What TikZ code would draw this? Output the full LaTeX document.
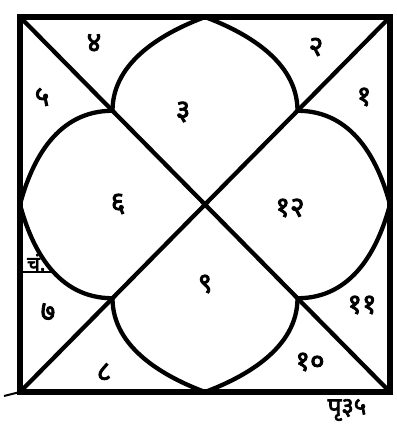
\documentclass[tikz,border=0pt]{standalone}
\usepackage{fontspec}
\newfontfamily\deva[Script=Devanagari,FakeBold=3]{Noto Sans}
\usetikzlibrary{calc}
\begin{document}
\begin{tikzpicture}[x=1pt,y=-1pt,
  lbl/.style={font=\deva\fontsize{28}{28}\selectfont, inner sep=0pt},
  frame/.style={line width=6pt, line cap=rect},
  inner/.style={line width=4.3pt, line join=round, line cap=round}]
\useasboundingbox (0,0) rectangle (397,432);
\fill[white] (0,0) rectangle (397,432);
\coordinate (A) at (20,17);
\coordinate (B) at (390,17);
\coordinate (C) at (390,392);
\coordinate (D) at (20,392);
\coordinate (O) at (205,204.5);
\coordinate (T) at (205,17);
\coordinate (R) at (390,204.5);
\coordinate (Bm) at (205,392);
\coordinate (L) at (20,204.5);
\coordinate (J1) at ($(A)!0.5!(O)$);
\coordinate (J2) at ($(B)!0.5!(O)$);
\coordinate (J3) at ($(C)!0.5!(O)$);
\coordinate (J4) at ($(D)!0.5!(O)$);
% frame and diagonals
\draw[frame] (A) rectangle (C);
\draw[inner] (A) -- (C);
\draw[inner] (B) -- (D);
\draw[line width=2pt] (D) -- (4,396);
% lobes
\draw[inner] (J1) .. controls ($(J1)+(0,-50)$) and ($(T)+(-40,15)$) .. (T)
  .. controls ($(T)+(40,15)$) and ($(J2)+(0,-50)$) .. (J2);
\draw[inner] (J2) .. controls ($(J2)+(55,0)$) and ($(R)+(-12,-45)$) .. (R)
  .. controls ($(R)+(-12,45)$) and ($(J3)+(55,0)$) .. (J3);
\draw[inner] (J3) .. controls ($(J3)+(0,50)$) and ($(Bm)+(40,-15)$) .. (Bm)
  .. controls ($(Bm)+(-40,-15)$) and ($(J4)+(0,50)$) .. (J4);
\draw[inner] (J4) .. controls ($(J4)+(-55,0)$) and ($(L)+(12,45)$) .. (L)
  .. controls ($(L)+(12,-45)$) and ($(J1)+(-55,0)$) .. (J1);
% house labels
\node[lbl] (h3) at (183,112) {३};
\node[lbl] (h4) at (94,43) {४};
\node[lbl] (h5) at (42,97) {५};
\node[lbl] (h6) at (118,204) {६};
\node[lbl] (h7) at (48,312) {७};
\node[lbl] (h8) at (104,372) {८};
\node[lbl] (h9) at (205,284) {९};
\node[lbl] (h10) at (310,362) {१०};
\node[lbl] (h11) at (362,305) {११};
\node[lbl] (h12) at (290,208) {१२};
\node[lbl] (h1) at (364,97) {१};
\node[lbl] (h2) at (316,47) {२};
% side note
\node[lbl, font=\deva\fontsize{20}{20}\selectfont, anchor=south west] (moon) at (27,271) {चं.};
\draw[line width=2.5pt] (L |- 0,272) -- (52,272);
% page mark
\node[lbl, font=\deva\fontsize{24}{24}\selectfont] (pg) at (347,410) {पृ३५};
\end{tikzpicture}
\end{document}
